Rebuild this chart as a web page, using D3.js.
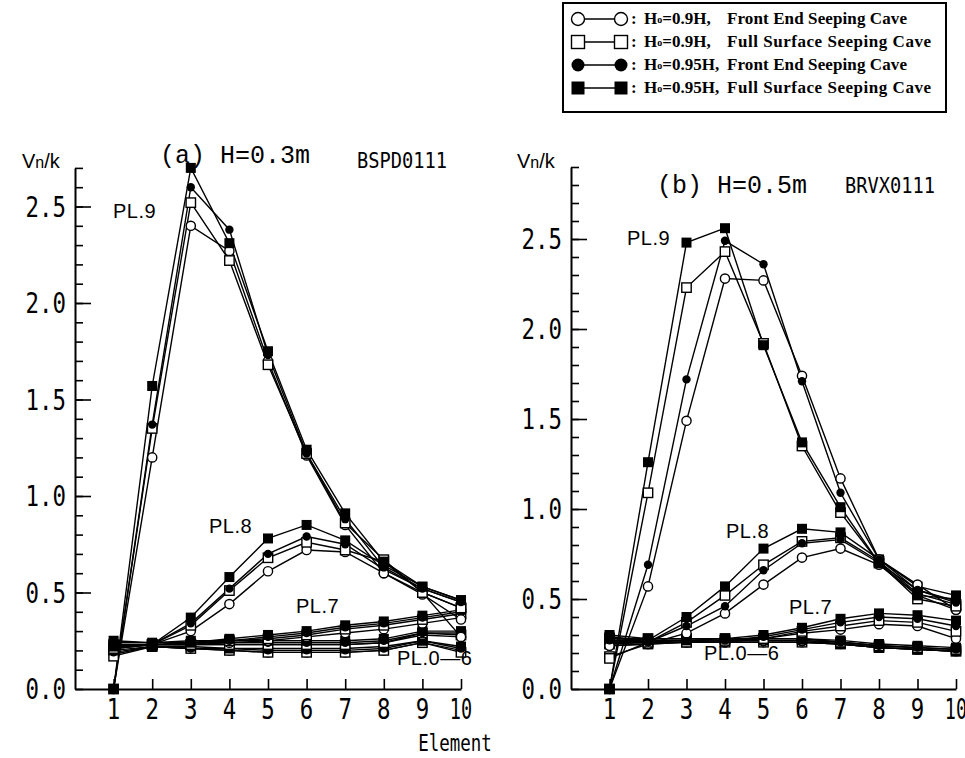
<!DOCTYPE html>
<html><head><meta charset="utf-8">
<script src="https://cdn.jsdelivr.net/npm/d3@7/dist/d3.min.js"></script>
<style>body{margin:0;background:#fff}svg{display:block}</style>
</head><body>
<svg id="chart" width="965" height="758"></svg>
<script>
// ---------------- DATA ----------------
const elements = [1,2,3,4,5,6,7,8,9,10];
const xTickLabels = ["1","2","3","4","5","6","7","8","9","10"];
const yTickValues = [0.0,0.5,1.0,1.5,2.0,2.5];
const yTickLabels = ["0.0","0.5","1.0","1.5","2.0","2.5"];
const symbolKeys = ["oc","os","fc","fs"];
const legendHo = ["0.9H,", "0.9H,", "0.95H,", "0.95H,"];
const legendCave = ["Front End Seeping Cave","Full Surface Seeping Cave","Front End Seeping Cave","Full Surface Seeping Cave"];

// Panel (a) H=0.3m
const a_PL9_oc = [0.00,1.20,2.40,2.27,1.70,1.21,0.85,0.60,0.50,0.27];
const a_PL9_os = [0.00,1.35,2.52,2.22,1.68,1.22,0.86,0.67,0.50,0.42];
const a_PL9_fc = [0.00,1.37,2.60,2.38,1.73,1.22,0.88,0.63,0.52,0.45];
const a_PL9_fs = [0.00,1.57,2.70,2.31,1.75,1.24,0.91,0.66,0.53,0.46];
const a_PL8_oc = [0.22,0.23,0.30,0.44,0.61,0.72,0.71,0.60,0.49,0.36];
const a_PL8_os = [0.21,0.23,0.33,0.51,0.68,0.76,0.72,0.66,0.50,0.42];
const a_PL8_fc = [0.22,0.23,0.34,0.52,0.70,0.79,0.75,0.62,0.52,0.45];
const a_PL8_fs = [0.22,0.23,0.37,0.58,0.78,0.85,0.77,0.64,0.53,0.46];
const a_PL7_oc = [0.21,0.23,0.23,0.24,0.25,0.27,0.29,0.31,0.34,0.37];
const a_PL7_os = [0.21,0.23,0.23,0.25,0.26,0.28,0.31,0.33,0.36,0.39];
const a_PL7_fc = [0.22,0.23,0.24,0.25,0.27,0.29,0.32,0.34,0.37,0.40];
const a_PL7_fs = [0.22,0.23,0.24,0.26,0.28,0.30,0.33,0.35,0.38,0.41];
const a_PL6_oc = [0.22,0.23,0.23,0.23,0.23,0.23,0.23,0.24,0.28,0.27];
const a_PL6_os = [0.23,0.23,0.23,0.23,0.23,0.23,0.23,0.24,0.29,0.28];
const a_PL6_fc = [0.24,0.24,0.24,0.24,0.24,0.24,0.24,0.25,0.29,0.29];
const a_PL6_fs = [0.25,0.24,0.25,0.25,0.25,0.25,0.25,0.26,0.30,0.30];
const a_PL0_oc = [0.18,0.22,0.21,0.20,0.19,0.19,0.19,0.20,0.24,0.20];
const a_PL0_os = [0.17,0.22,0.21,0.20,0.19,0.19,0.19,0.20,0.24,0.19];
const a_PL0_fc = [0.19,0.22,0.21,0.21,0.20,0.20,0.20,0.21,0.25,0.21];
const a_PL0_fs = [0.20,0.22,0.22,0.21,0.21,0.21,0.21,0.22,0.25,0.22];

// Panel (b) H=0.5m
const b_PL9_oc = [0.00,0.57,1.49,2.28,2.27,1.74,1.17,0.72,0.58,0.44];
const b_PL9_os = [0.00,1.09,2.23,2.43,1.92,1.35,0.98,0.70,0.50,0.46];
const b_PL9_fc = [0.00,0.69,1.72,2.49,2.36,1.71,1.09,0.72,0.55,0.48];
const b_PL9_fs = [0.00,1.26,2.48,2.56,1.91,1.37,1.01,0.70,0.52,0.50];
const b_PL8_oc = [0.24,0.25,0.31,0.42,0.58,0.73,0.78,0.69,0.52,0.44];
const b_PL8_os = [0.17,0.26,0.37,0.52,0.69,0.82,0.84,0.71,0.53,0.47];
const b_PL8_fc = [0.27,0.26,0.35,0.46,0.66,0.81,0.83,0.70,0.55,0.49];
const b_PL8_fs = [0.28,0.27,0.40,0.57,0.78,0.89,0.87,0.72,0.57,0.52];
const b_PL7_oc = [0.24,0.25,0.26,0.26,0.28,0.31,0.33,0.36,0.35,0.28];
const b_PL7_os = [0.18,0.25,0.26,0.27,0.28,0.32,0.35,0.38,0.37,0.32];
const b_PL7_fc = [0.27,0.26,0.27,0.27,0.29,0.33,0.37,0.40,0.39,0.35];
const b_PL7_fs = [0.29,0.27,0.27,0.28,0.30,0.34,0.39,0.42,0.41,0.38];
const b_PL6_oc = [0.27,0.27,0.27,0.27,0.27,0.27,0.26,0.24,0.23,0.22];
const b_PL6_os = [0.28,0.28,0.28,0.28,0.28,0.28,0.26,0.24,0.23,0.22];
const b_PL6_fc = [0.28,0.28,0.28,0.28,0.28,0.28,0.26,0.24,0.23,0.22];
const b_PL6_fs = [0.30,0.28,0.28,0.28,0.28,0.28,0.27,0.25,0.24,0.23];
const b_PL0_oc = [0.25,0.26,0.26,0.26,0.26,0.26,0.25,0.23,0.22,0.21];
const b_PL0_os = [0.25,0.26,0.26,0.26,0.26,0.26,0.25,0.23,0.22,0.21];
const b_PL0_fc = [0.26,0.26,0.26,0.26,0.26,0.26,0.25,0.23,0.22,0.21];
const b_PL0_fs = [0.26,0.27,0.27,0.27,0.27,0.27,0.25,0.23,0.22,0.21];

const seriesA = [
  [a_PL0_oc,a_PL0_os,a_PL0_fc,a_PL0_fs],
  [a_PL6_oc,a_PL6_os,a_PL6_fc,a_PL6_fs],
  [a_PL7_oc,a_PL7_os,a_PL7_fc,a_PL7_fs],
  [a_PL8_oc,a_PL8_os,a_PL8_fc,a_PL8_fs],
  [a_PL9_oc,a_PL9_os,a_PL9_fc,a_PL9_fs]
];
const seriesB = [
  [b_PL0_oc,b_PL0_os,b_PL0_fc,b_PL0_fs],
  [b_PL6_oc,b_PL6_os,b_PL6_fc,b_PL6_fs],
  [b_PL7_oc,b_PL7_os,b_PL7_fc,b_PL7_fs],
  [b_PL8_oc,b_PL8_os,b_PL8_fc,b_PL8_fs],
  [b_PL9_oc,b_PL9_os,b_PL9_fc,b_PL9_fs]
];

// ---------------- DRAW ----------------
const svg = d3.select("#chart");
const MONO = "'DejaVu Sans Mono', monospace";
const SANS = "'Liberation Sans', Arial, sans-serif";
const SERIF = "'Liberation Serif', serif";

function drawMarker(g, type, x, y) {
  if (type === "oc") g.append("circle").attr("cx",x).attr("cy",y).attr("r",4.6).attr("fill","#fff").attr("stroke","#000").attr("stroke-width",1.4);
  else if (type === "fc") g.append("circle").attr("cx",x).attr("cy",y).attr("r",4.2).attr("fill","#000");
  else if (type === "os") g.append("rect").attr("x",x-4.7).attr("y",y-4.7).attr("width",9.4).attr("height",9.4).attr("fill","#fff").attr("stroke","#000").attr("stroke-width",1.4);
  else g.append("rect").attr("x",x-5).attr("y",y-5).attr("width",10).attr("height",10).attr("fill","#000");
}

function squeezedText(g, txt, x, y, size, anchor, sx) {
  g.append("text").attr("transform",`translate(${x},${y}) scale(${sx},1)`)
    .attr("text-anchor",anchor).attr("font-family",MONO).attr("font-size",size).attr("fill","#000").text(txt);
}

function drawPanel(cfg) {
  const g = svg.append("g");
  const x = d3.scaleLinear().domain([0,10]).range([cfg.x0, cfg.x1]);
  const y = d3.scaleLinear().domain([0,cfg.ymax]).range([cfg.y0, cfg.y0 - cfg.ymax*cfg.k]);

  const minor = d3.range(0, Math.round(cfg.ymax*10)+1).map(i => i/10);
  g.append("g").attr("transform",`translate(${cfg.x0},0)`)
    .call(d3.axisRight(y).tickValues(minor).tickSize(8).tickSizeOuter(0).tickFormat(""));
  const ya2 = g.append("g").attr("transform",`translate(${cfg.x0},0)`)
    .call(d3.axisRight(y).tickValues(yTickValues.slice(1)).tickSize(16).tickSizeOuter(0).tickFormat(""));
  ya2.select(".domain").remove();
  g.append("g").attr("transform",`translate(0,${cfg.y0})`)
    .call(d3.axisTop(x).tickValues(elements).tickSize(10).tickSizeOuter(0).tickFormat(""));
  g.selectAll(".domain").attr("stroke","#000").attr("stroke-width",2);
  g.selectAll(".tick line").attr("stroke","#000").attr("stroke-width",1.6);

  yTickValues.forEach((v,i) => squeezedText(g, yTickLabels[i], cfg.ylabX, y(v)+10, 28, "end", 0.8));
  elements.forEach((e,i) => squeezedText(g, xTickLabels[i], x(e), cfg.y0+30, 28, "middle", i===9?0.66:0.8));

  const line = d3.line().x((d,i) => x(elements[i])).y(d => y(d));
  cfg.series.forEach(group => group.forEach(arr => {
    g.append("path").attr("d", line(arr)).attr("fill","none").attr("stroke","#000").attr("stroke-width",1.4);
  }));
  cfg.series.forEach(group => group.forEach((arr,si) => {
    arr.forEach((v,i) => drawMarker(g, symbolKeys[si], x(elements[i]), y(v)));
  }));

  const vn = g.append("text").attr("x",cfg.vnX).attr("y",168).attr("font-family",SANS).attr("font-size",20);
  vn.append("tspan").text("V");
  vn.append("tspan").attr("font-size",16).text("n");
  vn.append("tspan").text("/k");
  cfg.pl.forEach(p => g.append("text").attr("x",p[1]).attr("y",p[2]).attr("font-family",SANS)
    .attr("font-size",20).attr("letter-spacing",0.5).text(p[0]));
  g.append("text").attr("x",cfg.title[1]).attr("y",cfg.title[2]).attr("font-family","'Liberation Mono', monospace")
    .attr("font-size",25).text(cfg.title[0]);
  squeezedText(g, cfg.code[0], cfg.code[1], cfg.code[2], 22, "start", 0.85);
}

drawPanel({x0:75, x1:461, y0:689, k:193, ymax:2.7, ylabX:66, vnX:22, series:seriesA,
  pl:[["PL.9",113,218],["PL.8",209,533],["PL.7",296,613],["PL.0—6",397,665]],
  title:["(a) H=0.3m",160,163], code:["BSPD0111",357,168]});
drawPanel({x0:571, x1:956, y0:689, k:180, ymax:2.9, ylabX:562, vnX:517, series:seriesB,
  pl:[["PL.9",627,245],["PL.8",726,538],["PL.7",789,614],["PL.0—6",704,660]],
  title:["(b) H=0.5m",657,193], code:["BRVX0111",845,193]});

squeezedText(svg, "Element", 455, 751, 23, "middle", 0.76);

// legend
const lg = svg.append("g");
lg.append("rect").attr("x",563).attr("y",3).attr("width",383).attr("height",109)
  .attr("fill","#fff").attr("stroke","#000").attr("stroke-width",2);
const rowY = d3.scaleLinear().domain([0,3]).range([19,88]);
const caveLen = [180, 204, 180, 204];
symbolKeys.forEach((k,i) => {
  const yy = rowY(i);
  lg.append("line").attr("x1",578).attr("x2",621).attr("y1",yy).attr("y2",yy).attr("stroke","#000").attr("stroke-width",1.4);
  [578,621].forEach(xx => {
    if (k==="oc") lg.append("circle").attr("cx",xx).attr("cy",yy).attr("r",6.5).attr("fill","#fff").attr("stroke","#000").attr("stroke-width",1.4);
    else if (k==="fc") lg.append("circle").attr("cx",xx).attr("cy",yy).attr("r",6.5).attr("fill","#000");
    else if (k==="os") lg.append("rect").attr("x",xx-6.5).attr("y",yy-6.5).attr("width",13).attr("height",13).attr("fill","#fff").attr("stroke","#000").attr("stroke-width",1.4);
    else lg.append("rect").attr("x",xx-6.5).attr("y",yy-6.5).attr("width",13).attr("height",13).attr("fill","#000");
  });
  lg.append("text").attr("x",631).attr("y",yy+5).attr("font-family",SERIF).attr("font-weight","bold").attr("font-size",17).text(":");
  const t = lg.append("text").attr("x",644).attr("y",yy+5).attr("font-family",SERIF).attr("font-weight","bold").attr("font-size",17);
  t.append("tspan").text("H");
  t.append("tspan").attr("font-size",10).attr("dy",-1).text("o");
  t.append("tspan").attr("dy",1).text("=" + legendHo[i]);
  lg.append("text").attr("x",727).attr("y",yy+5).attr("font-family",SERIF).attr("font-weight","bold")
    .attr("font-size",17).attr("textLength",caveLen[i]).attr("lengthAdjust","spacing").text(legendCave[i]);
});
</script>
</body></html>
